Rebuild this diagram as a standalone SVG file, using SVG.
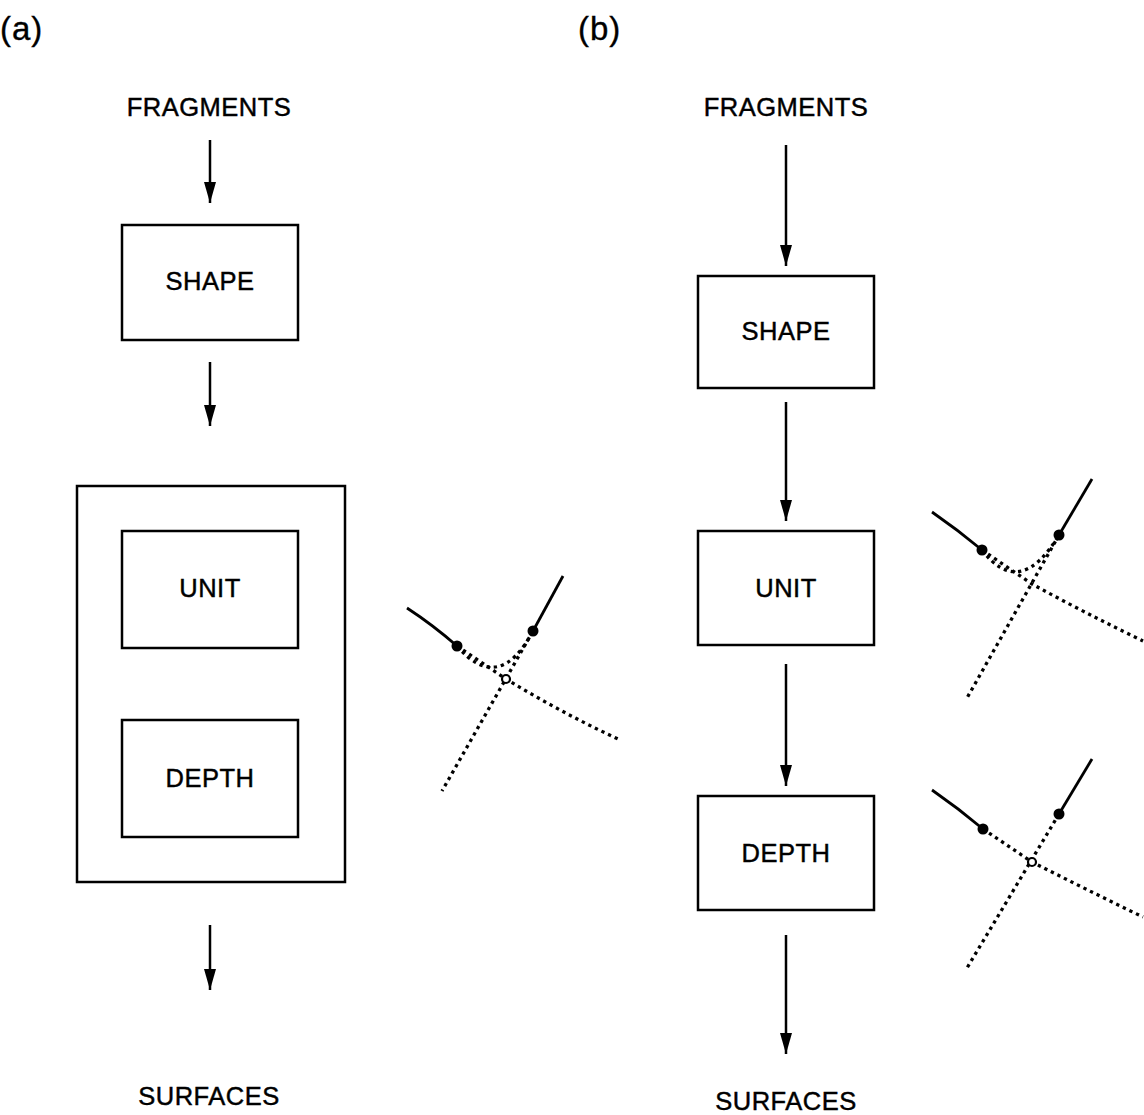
<svg xmlns="http://www.w3.org/2000/svg" width="1144" height="1115" viewBox="0 0 1144 1115">
<style>
text{font-family:"Liberation Sans",Arial,sans-serif;font-size:25.5px;letter-spacing:0.5px;fill:#000;stroke:#000;stroke-width:0.45;text-anchor:middle}
.lbl{text-anchor:start;font-size:33px;letter-spacing:1px;stroke-width:0.35}
.box{fill:none;stroke:#000;stroke-width:2.5}
.arr{stroke:#000;stroke-width:2.5}
.sol{fill:none;stroke:#000;stroke-width:2.8}
.dot{fill:none;stroke:#000;stroke-width:3.3;stroke-dasharray:3.3 4}
</style>
<defs>
<marker id="ahd" markerUnits="userSpaceOnUse" markerWidth="22" markerHeight="12" viewBox="0 0 22 12" refX="21" refY="6" orient="auto">
<path d="M0,0 L21,6 L0,12 Z" fill="#000"/>
</marker>
</defs>
<rect width="1144" height="1115" fill="#fff"/>
<text class="lbl" x="0" y="40">(a)</text>
<text class="lbl" x="578" y="40">(b)</text>
<g id="a-fragments"><text x="209" y="116">FRAGMENTS</text></g>
<g id="a-shape"><rect class="box" x="122" y="225" width="176" height="115"/><text x="210" y="290">SHAPE</text></g>
<g id="a-outer"><rect class="box" x="77" y="486" width="268" height="396"/></g>
<g id="a-unit"><rect class="box" x="122" y="531" width="176" height="117"/><text x="210" y="597">UNIT</text></g>
<g id="a-depth"><rect class="box" x="122" y="720" width="176" height="117"/><text x="210" y="787">DEPTH</text></g>
<g id="a-surfaces"><text x="209" y="1105">SURFACES</text></g>
<g id="b-fragments"><text x="786" y="116">FRAGMENTS</text></g>
<g id="b-shape"><rect class="box" x="698" y="276" width="176" height="112"/><text x="786" y="340">SHAPE</text></g>
<g id="b-unit"><rect class="box" x="698" y="531" width="176" height="114"/><text x="786" y="597">UNIT</text></g>
<g id="b-depth"><rect class="box" x="698" y="796" width="176" height="114"/><text x="786" y="862">DEPTH</text></g>
<g id="b-surfaces"><text x="786" y="1110">SURFACES</text></g>
<g id="connectors">
<line class="arr" x1="210" y1="140" x2="210" y2="203" marker-end="url(#ahd)"/>
<line class="arr" x1="210" y1="362" x2="210" y2="426" marker-end="url(#ahd)"/>
<line class="arr" x1="210" y1="925" x2="210" y2="990" marker-end="url(#ahd)"/>
<line class="arr" x1="786" y1="145" x2="786" y2="266" marker-end="url(#ahd)"/>
<line class="arr" x1="786" y1="402" x2="786" y2="521" marker-end="url(#ahd)"/>
<line class="arr" x1="786" y1="664" x2="786" y2="786" marker-end="url(#ahd)"/>
<line class="arr" x1="786" y1="935" x2="786" y2="1054" marker-end="url(#ahd)"/>
</g>
<g id="a-curves">
<path class="sol" d="M407,608 Q433,625 457,646"/>
<path class="sol" d="M533,631 L563,576"/>
<path class="dot" d="M457,646 Q499,695 533,631"/>
<path class="dot" d="M457,646 L506,679 Q560,712 618,739"/>
<path class="dot" d="M533,631 L442,791"/>
<circle cx="457" cy="646" r="5.5" fill="#000"/>
<circle cx="533" cy="631" r="5.5" fill="#000"/>
<circle cx="506" cy="679" r="4" fill="#fff" stroke="#000" stroke-width="2.2"/>
</g>
<g id="b-curves-unit">
<path class="sol" d="M932,512 Q958,530 982,550"/>
<path class="sol" d="M1059,535 L1092,479"/>
<path class="dot" d="M982,550 Q1020,600 1059,535"/>
<path class="dot" d="M982,550 L1032,584 Q1085,613 1143,641"/>
<path class="dot" d="M1059,535 L967,698"/>
<circle cx="982" cy="550" r="5.5" fill="#000"/>
<circle cx="1059" cy="535" r="5.5" fill="#000"/>
</g>
<g id="b-curves-depth">
<path class="sol" d="M932,790 Q958,808 983,829"/>
<path class="sol" d="M1059,814 L1092,759"/>
<path class="dot" d="M983,829 L1032,862 Q1087,890 1143,917"/>
<path class="dot" d="M1059,814 L967,968"/>
<circle cx="983" cy="829" r="5.5" fill="#000"/>
<circle cx="1059" cy="814" r="5.5" fill="#000"/>
<circle cx="1032" cy="862" r="4" fill="#fff" stroke="#000" stroke-width="2.2"/>
</g>
</svg>
